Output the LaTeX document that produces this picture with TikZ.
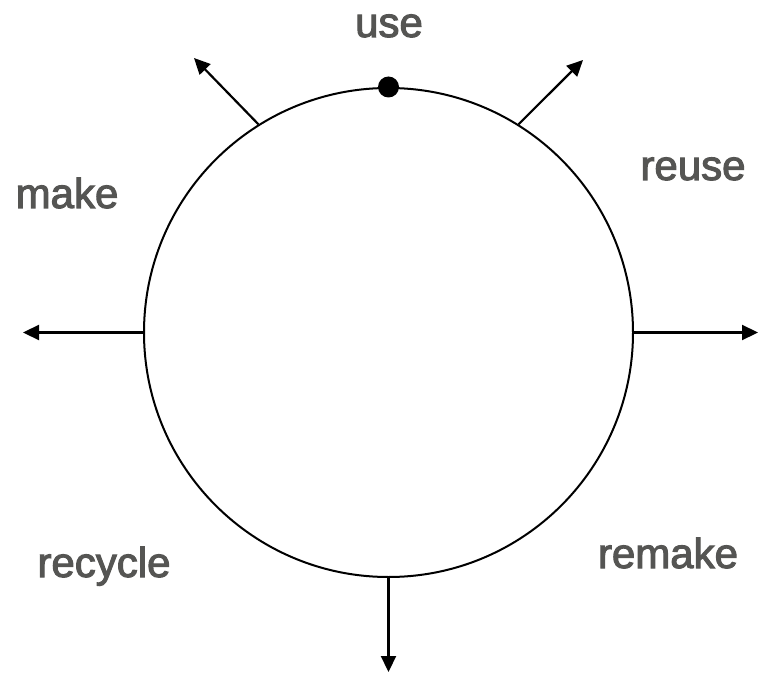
\documentclass[tikz,border=0pt]{standalone}
\usepackage{fontspec}
\setmainfont{Liberation Sans}
\newfontfamily\labfont{Liberation Sans}[RawFeature={embolden=2.5}]
\usetikzlibrary{arrows.meta}
\definecolor{lbl}{HTML}{555553}
\begin{document}
\begin{tikzpicture}[x=1pt,y=-1pt,
  lab/.style={text=lbl,font=\labfont\fontsize{42}{50}\selectfont,inner sep=0pt,anchor=base},
  arr/.style={line width=2.2pt,-{Triangle[length=16pt,width=15pt]}},
  ring/.style={draw,line width=2pt,circle,minimum size=489pt,inner sep=0pt}]
\useasboundingbox (0,0) rectangle (764,674);
\node[ring] (c) at (388.5,332.5) {};
\fill (c.90) circle (10.5pt);
\coordinate (tl) at (194,58);
\coordinate (tr) at (583,60);
\coordinate (l) at (23,332.5);
\coordinate (r) at (758,332.5);
\coordinate (b) at (388.5,672);
\draw[arr] (c.122) -- (tl);
\draw[arr] (c.58) -- (tr);
\draw[arr] (c.west) -- (l);
\draw[arr] (c.east) -- (r);
\draw[arr] (c.south) -- (b);
\node[lab] (use) at (389,37) {use};
\node[lab] (reuse) at (693,180) {reuse};
\node[lab] (make) at (67,208) {make};
\node[lab] (recycle) at (104,577) {recycle};
\node[lab] (remake) at (668,568) {remake};
\end{tikzpicture}
\end{document}
